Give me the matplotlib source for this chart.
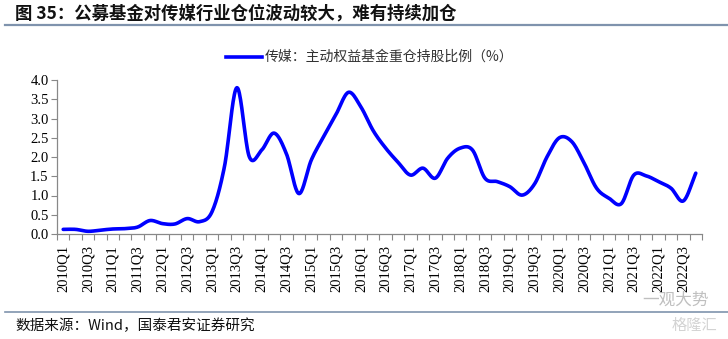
import numpy as np
import matplotlib
matplotlib.use("Agg")
import matplotlib.pyplot as plt
from matplotlib.lines import Line2D

plt.rcParams['font.family'] = ['Liberation Serif', 'Noto Sans CJK SC', 'DejaVu Sans']

# Quarterly series 2010Q1 - 2022Q4
quarters = [f"{y}Q{q}" for y in range(2010, 2023) for q in range(1, 5)]
media_weight = [
    0.12, 0.12, 0.07, 0.10, 0.13, 0.14, 0.18, 0.35,
    0.27, 0.26, 0.40, 0.32, 0.58, 1.75, 3.80, 2.01,
    2.18, 2.62, 2.08, 1.05, 1.92, 2.53, 3.11, 3.68,
    3.30, 2.68, 2.23, 1.86, 1.53, 1.71, 1.45, 1.97,
    2.23, 2.18, 1.45, 1.36, 1.23, 1.01, 1.30, 2.00,
    2.50, 2.40, 1.84, 1.19, 0.93, 0.79, 1.53, 1.51,
    1.36, 1.19, 0.86, 1.58,
]
y_ticks = [0.0, 0.5, 1.0, 1.5, 2.0, 2.5, 3.0, 3.5, 4.0]
legend_label = "传媒：主动权益基金重仓持股比例（%）"
title_text = "图 35：公募基金对传媒行业仓位波动较大，难有持续加仓"
source_text = "数据来源：Wind，国泰君安证券研究"


def smooth_curve(x, y, n=20):
    """Catmull-Rom style smoothing through every point."""
    x = np.asarray(x, float)
    y = np.asarray(y, float)
    px = np.concatenate([[2 * x[0] - x[1]], x, [2 * x[-1] - x[-2]]])
    py = np.concatenate([[2 * y[0] - y[1]], y, [2 * y[-1] - y[-2]]])
    xs, ys = [], []
    t = np.linspace(0, 1, n, endpoint=False)
    for i in range(1, len(px) - 2):
        p0, p1, p2, p3 = py[i - 1], py[i], py[i + 1], py[i + 2]
        ys.append(0.5 * ((2 * p1) + (-p0 + p2) * t + (2 * p0 - 5 * p1 + 4 * p2 - p3) * t ** 2
                         + (-p0 + 3 * p1 - 3 * p2 + p3) * t ** 3))
        xs.append(px[i] + (px[i + 1] - px[i]) * t)
    xs.append([x[-1]])
    ys.append([y[-1]])
    return np.concatenate(xs), np.concatenate(ys)


W, H = 728, 339
fig = plt.figure(figsize=(W / 100, H / 100), dpi=100)
ax = fig.add_axes([57 / W, 1 - 234 / H, (702 - 57) / W, (234 - 80) / H])

xi = np.arange(len(quarters))
sx, sy = smooth_curve(xi, media_weight)
line_color = '#0000FF'
ax.plot(sx, sy, color=line_color, lw=2.6, solid_capstyle='round')

ax.set_xlim(-0.5, len(quarters) - 0.5)
ax.set_ylim(0, 4.0)
ax.set_yticks(y_ticks)
ax.set_yticklabels([f"{v:.1f}" for v in y_ticks], fontsize=10.5)

ax.set_xticks(np.arange(-0.5, len(quarters), 1.0), minor=True)
ax.set_xticks(xi[::2])
ax.set_xticklabels(quarters[::2], rotation=90, fontsize=10.5)
ax.tick_params(axis='x', which='major', length=0, pad=8)
ax.tick_params(axis='x', which='minor', length=4, color='#888888', width=0.8)
ax.tick_params(axis='y', length=4, color='#888888', width=0.8, pad=2)

for s in ['top', 'right']:
    ax.spines[s].set_visible(False)
for s in ['left', 'bottom']:
    ax.spines[s].set_color('#888888')
    ax.spines[s].set_linewidth(0.9)

# legend above plot
fig.add_artist(Line2D([226 / W, 262 / W], [1 - 57 / H] * 2, color=line_color, lw=2.6))
fig.text(265 / W, 1 - 57 / H, legend_label, fontsize=10, va='center', ha='left',
         family=['Noto Sans CJK SC'], color='#333333')

# title and separators
fig.text(15 / W, 1 - 14 / H, title_text, fontsize=12.5, fontweight='bold', va='center',
         ha='left', family=['Noto Sans CJK SC'], color='#111111')
fig.add_artist(Line2D([5 / W, 1.0], [1 - 25 / H] * 2, color='#7f93ad', lw=1.6))
fig.add_artist(Line2D([5 / W, 1.0], [1 - 312 / H] * 2, color='#7f93ad', lw=1.2))
fig.text(15 / W, 1 - 326 / H, source_text, fontsize=10.5, va='center', ha='left',
         family=['Noto Sans CJK SC'], color='#111111')

# account marks in the corner
fig.text(642 / W, 1 - 300 / H, "一观大势", fontsize=12, va='center', ha='left',
         family=['Noto Sans CJK SC'], color='#b0b0b0', alpha=0.8)
fig.text(672 / W, 1 - 325 / H, "格隆汇", fontsize=11, va='center', ha='left',
         family=['Noto Sans CJK SC'], color='#c8c8c8', alpha=0.8)

fig.savefig("out.png", dpi=100)
